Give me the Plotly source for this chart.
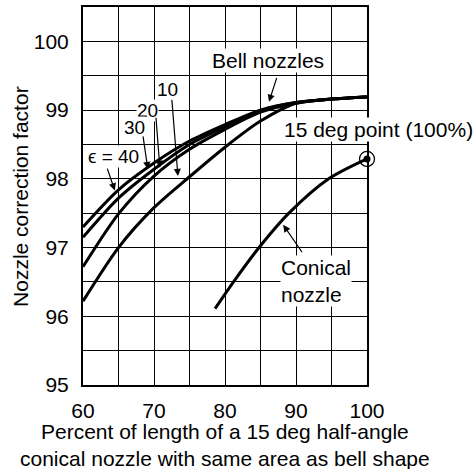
import plotly.graph_objects as go

# ---- data ----
x_bell = [60, 65, 70, 75, 80, 85, 90, 95, 100]
eps40 = [97.30, 97.84, 98.23, 98.55, 98.79, 99.00, 99.11, 99.16, 99.19]
eps30 = [97.15, 97.72, 98.14, 98.50, 98.76, 98.99, 99.11, 99.16, 99.19]
eps20 = [96.72, 97.49, 98.04, 98.43, 98.72, 98.97, 99.10, 99.16, 99.19]
eps10 = [96.22, 97.00, 97.58, 98.03, 98.46, 98.84, 99.10, 99.16, 99.19]

x_conical = [78.6, 81.2, 84.8, 89.0, 94.6, 100]
y_conical = [96.11, 96.50, 97.00, 97.50, 98.00, 98.29]

point_x = [100]
point_y = [98.29]

x_tickvals = [60, 65, 70, 75, 80, 85, 90, 95, 100]
x_ticktext = ["60", "", "70", "", "80", "", "90", "", "100"]
y_tickvals = [95, 95.5, 96, 96.5, 97, 97.5, 98, 98.5, 99, 99.5, 100, 100.5]
y_ticktext = ["95", "", "96", "", "97", "", "98", "", "99", "", "100", ""]

FONT = "Liberation Sans, Arial, Helvetica, sans-serif"

fig = go.Figure()
line = dict(color="black", width=3, shape="spline", smoothing=0.8)
for name, ys in [("ε = 40", eps40), ("30", eps30), ("20", eps20), ("10", eps10)]:
    fig.add_trace(go.Scatter(x=x_bell, y=ys, mode="lines", line=line, name=name,
                             showlegend=False, hoverinfo="skip", cliponaxis=False))
fig.add_trace(go.Scatter(x=x_conical, y=y_conical, mode="lines", line=line,
                         showlegend=False, hoverinfo="skip", cliponaxis=False))
fig.add_trace(go.Scatter(x=point_x, y=point_y, mode="markers",
                         marker=dict(symbol="circle-open", size=15, color="black",
                                     line=dict(width=1.3, color="black")),
                         showlegend=False, hoverinfo="skip", cliponaxis=False))
fig.add_trace(go.Scatter(x=point_x, y=point_y, mode="markers",
                         marker=dict(symbol="circle", size=7, color="black"),
                         showlegend=False, hoverinfo="skip", cliponaxis=False))

def label(text, x, y, size=21, xref="x", yref="y", align="center", xanchor="center"):
    fig.add_annotation(text=text, x=x, y=y, xref=xref, yref=yref, showarrow=False,
                       font=dict(family=FONT, size=size, color="black"),
                       bgcolor="white", borderpad=0, align=align, xanchor=xanchor)

def arrow(x0, y0, x1, y1):
    fig.add_annotation(text="", x=x1, y=y1, ax=x0, ay=y0, xref="x", yref="y",
                       axref="x", ayref="y", showarrow=True, arrowhead=2,
                       arrowsize=1.2, arrowwidth=1.2, arrowcolor="black", standoff=0)

label("Bell nozzles", 86.07, 99.72)
arrow(87.35, 99.49, 86.2, 99.12)
label("10", 71.95, 99.30, size=19)
arrow(72.5, 99.17, 73.37, 98.04)
label("20", 69.13, 99.0, size=19)
arrow(70.26, 98.91, 70.83, 98.16)
label("30", 67.31, 98.74, size=19)
arrow(68.43, 98.64, 69.13, 98.14)
label("ϵ = 40", 64.25, 98.33, size=19)
arrow(63.35, 98.17, 64.48, 97.83)
label("15 deg point (100%)", 1.042, 98.72, xref="paper")
label("Conical<br>nozzle", 87.8, 96.51, align="left", xanchor="left")
arrow(91.0, 96.91, 88.2, 97.33)

# axis titles
label("Nozzle correction factor", -0.222, 0.5, xref="paper", yref="paper")
fig.layout.annotations[-1].update(textangle=-90, bgcolor="rgba(0,0,0,0)")
label("Percent of length of a 15 deg half-angle<br>conical nozzle with same area as bell shape",
      0.5, -0.158, xref="paper", yref="paper")
fig.layout.annotations[-1].update(bgcolor="rgba(0,0,0,0)", yanchor="middle")

fig.update_xaxes(range=[60, 100], tickvals=x_tickvals, ticktext=x_ticktext,
                 showgrid=True, gridcolor="black", gridwidth=1,
                 showline=True, linecolor="black", linewidth=2, mirror=True,
                 ticks="", ticklabelstandoff=6, zeroline=False,
                 tickfont=dict(family=FONT, size=21, color="black"))
fig.update_yaxes(range=[95, 100.5], tickvals=y_tickvals, ticktext=y_ticktext,
                 showgrid=True, gridcolor="black", gridwidth=1,
                 showline=True, linecolor="black", linewidth=2, mirror=True,
                 ticks="", ticklabelstandoff=8, zeroline=False,
                 tickfont=dict(family=FONT, size=21, color="black"))

fig.update_layout(width=476, height=469,
                  margin=dict(l=83, r=109, t=5, b=84),
                  paper_bgcolor="white", plot_bgcolor="white",
                  font=dict(family=FONT, color="black"))

fig.write_html("out.html", config={"displayModeBar": False, "staticPlot": True},
               post_script="document.body.style.margin='0';")
